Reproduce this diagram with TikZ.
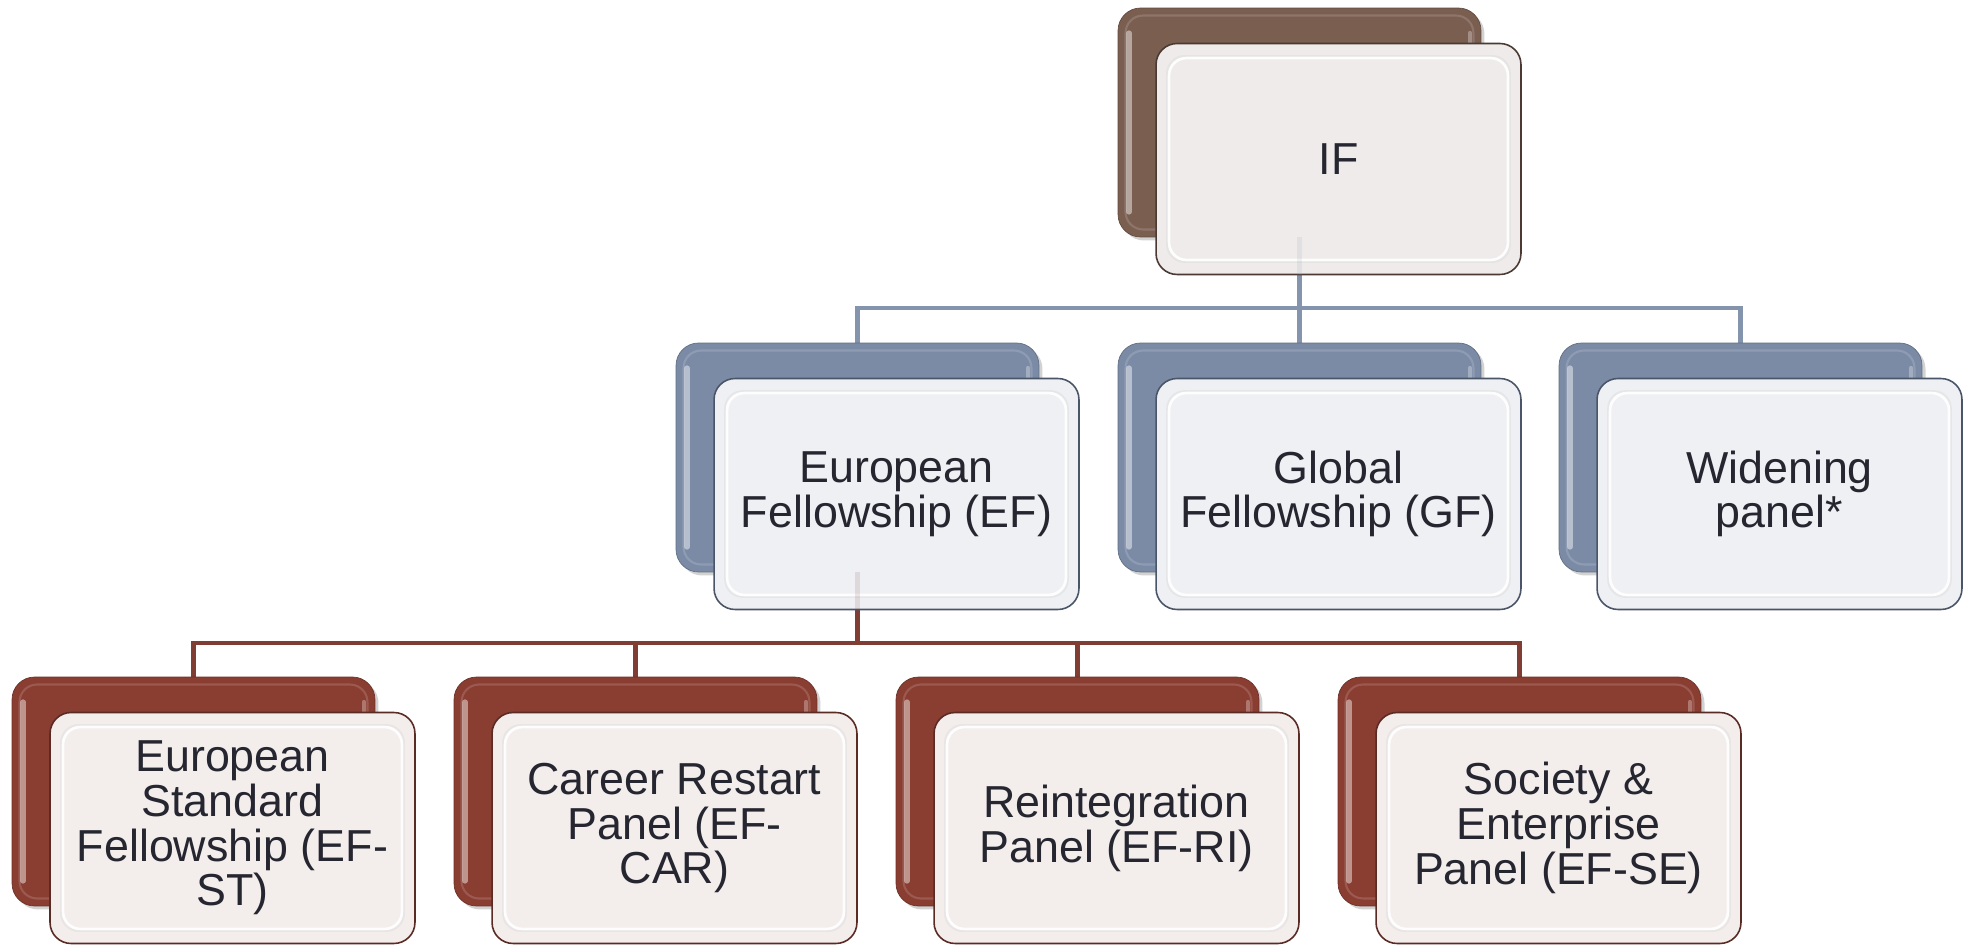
\documentclass[tikz,border=0pt]{standalone}
\usepackage{fontspec}
\setmainfont{Liberation Sans}
\usetikzlibrary{shadows}
\definecolor{ifback}{HTML}{7A5E50}
\definecolor{blueback}{HTML}{7B8BA6}
\definecolor{redback}{HTML}{8A3D31}
\definecolor{bluelinec}{HTML}{8494AD}
\definecolor{redlinec}{HTML}{7F3D33}
\definecolor{iffront}{HTML}{EEEBEA}
\definecolor{bluefront}{HTML}{EEF0F3}
\definecolor{redfront}{HTML}{F3EDEC}
\definecolor{ifborder}{HTML}{4B3A33}
\definecolor{blueborder}{HTML}{4A5568}
\definecolor{redborder}{HTML}{5A2A24}
\definecolor{txt}{HTML}{262631}
\tikzset{
  backbox/.style={rectangle, rounded corners=0.45cm, minimum width=7.26cm, minimum height=4.58cm,
    inner sep=0pt, fill=#1, draw=#1!80!black, line width=0.4pt,
    drop shadow={opacity=0.35, shadow xshift=2pt, shadow yshift=-2pt},
    path picture={
      \draw[white, opacity=0.45, line width=3pt, line cap=round]
        ([shift={(0.22cm,-0.5cm)}]path picture bounding box.north west) --
        ([shift={(0.22cm,0.5cm)}]path picture bounding box.south west);
      \draw[white, opacity=0.3, line width=2.5pt, line cap=round]
        ([shift={(-0.22cm,-0.5cm)}]path picture bounding box.north east) --
        ([shift={(-0.22cm,0.5cm)}]path picture bounding box.south east);
      \draw[white, opacity=0.15, line width=1.2pt, rounded corners=0.35cm]
        ([shift={(0.15cm,-0.15cm)}]path picture bounding box.north west) rectangle
        ([shift={(-0.15cm,0.15cm)}]path picture bounding box.south east);
    }},
  frontbox/.style 2 args={rectangle, rounded corners=0.42cm, minimum width=7.3cm, minimum height=4.62cm,
    inner sep=0pt, fill=#1, draw=#2, line width=0.9pt,
    align=center, text=txt, font=\fontsize{25.5pt}{25.5pt}\selectfont,
    path picture={
      \draw[gray!30, opacity=0.4, line width=1pt, rounded corners=0.35cm]
        ([shift={(0.22cm,-0.25cm)}]path picture bounding box.north west) rectangle
        ([shift={(-0.22cm,0.25cm)}]path picture bounding box.south east);
      \draw[white, opacity=0.9, line width=1.5pt, rounded corners=0.35cm]
        ([shift={(0.26cm,-0.29cm)}]path picture bounding box.north west) rectangle
        ([shift={(-0.26cm,0.29cm)}]path picture bounding box.south east);
    }},
  blueconn/.style={draw=bluelinec, line width=2.8pt},
  redconn/.style={draw=redlinec, line width=2.8pt},
  ghost/.style={opacity=0.13},
  anchorbox/.style={rectangle, minimum width=7.26cm, minimum height=4.58cm, inner sep=0pt}
}
\begin{document}
\begin{tikzpicture}[x=0.02cm, y=-0.02cm]
\useasboundingbox[fill=white] (0,0) rectangle (1974,945);
\coordinate (busA) at (0,308);
\coordinate (busB) at (0,643);
\path (1299.5,122.5) coordinate (ifc);
\path (857.5,457.5) coordinate (efc);
\path (1299.5,457.5) coordinate (gfc);
\path (1740.5,457.5) coordinate (wpc);
\path (193.5,791.5) coordinate (stc);
\path (635.5,791.5) coordinate (carc);
\path (1077.5,791.5) coordinate (ric);
\path (1519.5,791.5) coordinate (sec);
\node[anchorbox] (ifbk0) at (ifc) {};
\node[anchorbox] (efbk0) at (efc) {};
\node[anchorbox] (gfbk0) at (gfc) {};
\node[anchorbox] (wpbk0) at (wpc) {};
\node[anchorbox] (stbk0) at (stc) {};
\node[anchorbox] (carbk0) at (carc) {};
\node[anchorbox] (ribk0) at (ric) {};
\node[anchorbox] (sebk0) at (sec) {};
\draw[blueconn] (ifbk0.south) -- (gfbk0.north);
\draw[blueconn] (efbk0.north) -- (efbk0.north |- busA) -- (wpbk0.north |- busA) -- (wpbk0.north);
\draw[redconn] (efbk0.south) -- (efbk0.south |- busB);
\draw[redconn] (stbk0.north) -- (stbk0.north |- busB) -- (sebk0.north |- busB) -- (sebk0.north);
\draw[redconn] (carbk0.north) -- (carbk0.north |- busB);
\draw[redconn] (ribk0.north) -- (ribk0.north |- busB);
\node[backbox=ifback] (ifbk) at (ifc) {};
\node[backbox=blueback] (efbk) at (efc) {};
\node[backbox=blueback] (gfbk) at (gfc) {};
\node[backbox=blueback] (wpbk) at (wpc) {};
\node[backbox=redback] (stbk) at (stc) {};
\node[backbox=redback] (carbk) at (carc) {};
\node[backbox=redback] (ribk) at (ric) {};
\node[backbox=redback] (sebk) at (sec) {};
\node[frontbox={iffront}{ifborder}] (iff) at (1338.5,159) {IF};
\node[frontbox={bluefront}{blueborder}] (eff) at (896.5,494) {European\\Fellowship (EF)};
\node[frontbox={bluefront}{blueborder}] (gff) at (1338.5,494) {Global\\Fellowship (GF)};
\node[frontbox={bluefront}{blueborder}] (wpf) at (1779.5,494) {Widening\\panel*};
\node[frontbox={redfront}{redborder}] (stf) at (232.5,828) {European\\Standard\\Fellowship (EF-\\ST)};
\node[frontbox={redfront}{redborder}] (carf) at (674.5,828) {Career Restart\\Panel (EF-\\CAR)};
\node[frontbox={redfront}{redborder}] (rif) at (1116.5,828) {Reintegration\\Panel (EF-RI)};
\node[frontbox={redfront}{redborder}] (sef) at (1558.5,828) {Society \&\\Enterprise\\Panel (EF-SE)};
% faint parts of the connectors seen through the front boxes
\draw[blueconn, ghost] (ifbk.south) -- (ifbk.south |- iff.south);
\draw[redconn, ghost] (efbk.south) -- (efbk.south |- eff.south);
\end{tikzpicture}
\end{document}
